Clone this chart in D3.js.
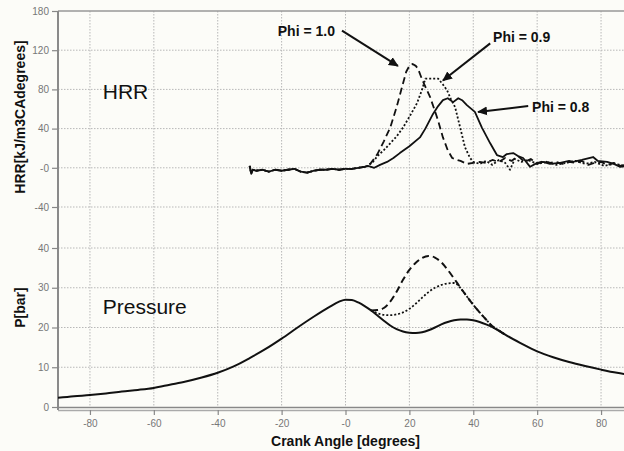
<!DOCTYPE html>
<html>
<head>
<meta charset="utf-8">
<script src="https://cdn.jsdelivr.net/npm/d3@7"></script>
<style>
  html, body { margin: 0; padding: 0; background: #fcfcf8; }
  svg { display: block; font-family: "Liberation Sans", Arial, sans-serif; }
</style>
</head>
<body>
<svg width="624" height="451"></svg>
<script>
///////////////////////////////////////////////////
// Data
///////////////////////////////////////////////////

//	shared motoring part of the HRR trace (before ignition)
let hrrBaseAngle = [-30, -29.5, -29, -28, -26, -24, -22, -20, -18, -16, -14, -12, -10, -8, -6, -4, -2, 0, 2, 4, 6, 7];
let hrrBaseValue = [2, -6, -2, -3, -2, -4, -2, -3, -2, -1, -4, -5, -3, -2, -2, -1, -2, -1, -1, 0, 1, 2];

//	HRR, Phi = 1.0 (dashed)
let hrr10Angle = [8, 10, 12, 14, 16, 18, 19, 20, 21, 22, 22.7, 24, 26.5, 28, 29, 30.5, 32, 33.4, 35, 36, 38, 40, 42, 44, 46, 48, 50, 52, 54, 56, 58, 60, 62, 64, 66, 68, 70, 72, 74, 76, 78, 80, 82, 84, 86, 88];
let hrr10Value = [5, 14, 27, 41, 62, 86, 98, 104, 106, 104, 101, 90, 72, 58, 48, 31, 18, 10, 8, 7, 4, 5, 6, 5, 8, 6, 10, 7, 12, 6, 9, 4, 7, 5, 6, 4, 6, 5, 7, 3, 5, 6, 3, 5, 2, 3];

//	HRR, Phi = 0.9 (dotted)
let hrr09Angle = [8.6, 10, 12, 14, 16, 18, 20, 22.4, 24, 25, 27, 29, 30.5, 31.8, 33, 34.3, 35.9, 37.4, 39, 40, 42, 44, 46, 48, 50, 51.5, 53, 55, 57, 60, 63, 66, 69, 72, 75, 78, 81, 84, 86, 88];
let hrr09Value = [6, 12, 18, 25, 32, 41, 52, 66, 80, 91, 91, 91, 85, 79, 70, 62, 41, 21, 10, 6, 4, 7, 3, 8, 5, -2, 9, 6, 8, 4, 6, 3, 5, 7, 4, 6, 2, 4, 3, 1];

//	HRR, Phi = 0.8 (solid)
let hrr08Angle = [9, 10.8, 13, 15, 17, 20, 23.3, 25, 27.4, 29, 30.5, 32, 33.7, 35.3, 36.5, 38, 40.5, 42.7, 45.3, 47.4, 49.3, 50.5, 52.5, 54, 55.6, 57.8, 60, 61.8, 64, 67.2, 70, 71.2, 74, 77.5, 79, 81.9, 84, 86, 88];
let hrr08Value = [0, 3, 6, 10, 15, 22, 31, 40, 55, 63, 69, 71, 67, 71, 69, 64, 57, 41, 25, 13, 11, 14, 15, 12, 10, 1, 5, 6, 4, 5, 7, 6, 8, 11, 7, 6, 4, 1, 2];

//	pressure, Phi = 0.8 (solid) - also the motored trace the others sit on
let p08Angle = [-90, -85, -80, -75, -70, -65, -60, -55, -50, -45, -40, -35, -30, -25, -20, -15, -10, -5, -2, 0, 2, 4, 6, 8, 10, 12, 14, 16, 18, 20, 22, 24, 26, 28, 30, 32, 34, 36, 38, 40, 42, 44, 46, 48, 50, 55, 60, 65, 70, 75, 80, 85, 90];
let p08Value = [2.3, 2.7, 3.0, 3.4, 3.9, 4.3, 4.8, 5.6, 6.4, 7.4, 8.6, 10.2, 12.3, 14.6, 17.2, 20.0, 22.7, 25.2, 26.5, 27.0, 26.9, 26.3, 25.4, 24.3, 23.0, 21.7, 20.5, 19.6, 19.0, 18.7, 18.6, 18.8, 19.3, 20.0, 20.8, 21.4, 21.8, 22.0, 22.0, 21.8, 21.4, 20.8, 20.1, 19.2, 18.2, 16.0, 14.0, 12.5, 11.3, 10.3, 9.4, 8.6, 8.0];

//	pressure, Phi = 1.0 (dashed), from where it leaves the solid trace
let p10Angle = [8, 10, 12, 14, 16, 18, 20, 22, 24, 26, 28, 30, 32, 34, 36, 38, 40, 42, 44, 46, 48, 50];
let p10Value = [24.3, 24.4, 24.9, 26.5, 29.0, 32.0, 34.5, 36.3, 37.5, 38.0, 37.6, 36.4, 34.5, 32.3, 30.0, 27.8, 25.7, 23.8, 22.0, 20.3, 19.2, 18.2];

//	pressure, Phi = 0.9 (dotted)
let p09Angle = [8, 10, 12, 14, 16, 18, 20, 22, 24, 26, 28, 30, 32, 34, 35, 36, 38, 40, 42, 44, 46, 48, 50];
let p09Value = [24.3, 23.6, 23.2, 23.1, 23.3, 23.8, 24.7, 26.0, 27.5, 28.9, 30.0, 30.7, 31.1, 31.2, 30.8, 29.9, 27.8, 25.7, 23.8, 22.0, 20.3, 19.2, 18.2];

//	axis ticks
let angleTicks = [-80, -60, -40, -20, 0, 20, 40, 60, 80];
let angleTickLabels = ["-80", "-60", "-40", "-20", "-0", "20", "40", "60", "80"];
let hrrTicks = [-40, 0, 40, 80, 120, 160];
let hrrTickLabels = ["-40", "-0", "40", "80", "120", "180"];
let pTicks = [0, 10, 20, 30, 40];
let pTickLabels = ["0", "10", "20", "30", "40"];

//	arrow annotations: [label, textAngle, textHRR, fromAngle, fromHRR, toAngle, toHRR, anchor]
let notes = [
  ["Phi = 1.0", -3.3, 134, -1.1, 140, 16.4, 104, "end"],
  ["Phi = 0.9", 46.2, 128, 45.3, 127, 30.5, 89, "start"],
  ["Phi = 0.8", 58.4, 57, 57.2, 63, 41.5, 57, "start"]
];

///////////////////////////////////////////////////
// Setup
///////////////////////////////////////////////////

let svg = d3.select("svg"),
    width = +svg.attr("width"),
    height = +svg.attr("height");

let x = d3.scaleLinear().domain([-90, 90]).range([58, 633]);
let yH = d3.scaleLinear().domain([-40, 160]).range([207, 11]);   // upper panel
let yP = d3.scaleLinear().domain([0, 40]).range([407, 248]);     // lower panel

function zip(a, b) {
  return a.map(function(d, i) { return [d, b[i]]; });
}

let hrrLine = d3.line()
  .x(function(d) { return x(d[0]); })
  .y(function(d) { return yH(d[1]); });

let pLine = d3.line()
  .curve(d3.curveMonotoneX)
  .x(function(d) { return x(d[0]); })
  .y(function(d) { return yP(d[1]); });

svg.append("rect")
  .attr("width", width)
  .attr("height", height)
  .attr("fill", "#fcfcf8");

svg.append("defs").append("marker")
  .attr("id", "arrow")
  .attr("viewBox", "0 -5 10 10")
  .attr("refX", 9)
  .attr("refY", 0)
  .attr("markerWidth", 5)
  .attr("markerHeight", 5)
  .attr("markerUnits", "strokeWidth")
  .attr("orient", "auto")
  .append("path")
  .attr("d", "M0,-4.5L10,0L0,4.5Z")
  .attr("fill", "#111");

///////////////////////////////////////////////////
// Grid
///////////////////////////////////////////////////

let grid = svg.append("g")
  .attr("stroke", "#b8b8b8")
  .attr("stroke-width", 1)
  .attr("stroke-dasharray", "1.5,1.5");

grid.selectAll(".vgrid")
  .data(angleTicks)
  .enter().append("line")
  .attr("x1", function(d) { return x(d); })
  .attr("x2", function(d) { return x(d); })
  .attr("y1", yH(160))
  .attr("y2", yP(0));

grid.selectAll(".hgridH")
  .data(hrrTicks.filter(function(d) { return d < 160; }))
  .enter().append("line")
  .attr("x1", x(-90))
  .attr("x2", x(90))
  .attr("y1", function(d) { return yH(d); })
  .attr("y2", function(d) { return yH(d); });

grid.selectAll(".hgridP")
  .data(pTicks.filter(function(d) { return d > 0; }))
  .enter().append("line")
  .attr("x1", x(-90))
  .attr("x2", x(90))
  .attr("y1", function(d) { return yP(d); })
  .attr("y2", function(d) { return yP(d); });

///////////////////////////////////////////////////
// Axes
///////////////////////////////////////////////////

//	frame: top, left, double bottom line
svg.append("line")
  .attr("x1", x(-90)).attr("x2", x(90))
  .attr("y1", yH(160)).attr("y2", yH(160))
  .attr("stroke", "#999").attr("stroke-width", 1.5);

svg.append("line")
  .attr("x1", x(-90)).attr("x2", x(-90))
  .attr("y1", yH(160)).attr("y2", yP(0) + 3)
  .attr("stroke", "#8a8a8a").attr("stroke-width", 2);

svg.append("line")
  .attr("x1", x(-90)).attr("x2", x(90))
  .attr("y1", yP(0) + 0.5).attr("y2", yP(0) + 0.5)
  .attr("stroke", "#888").attr("stroke-width", 1.5);

svg.append("line")
  .attr("x1", x(-90)).attr("x2", x(90))
  .attr("y1", yP(0) + 3.5).attr("y2", yP(0) + 3.5)
  .attr("stroke", "#aaa").attr("stroke-width", 1.5);

function styleAxis(g) {
  g.select(".domain").remove();
  g.selectAll(".tick line").attr("stroke", "#888").attr("stroke-width", 1.2);
  g.selectAll(".tick text")
    .attr("fill", "#777")
    .attr("font-size", "10px")
    .attr("font-family", "'Liberation Sans', Arial, sans-serif");
}

svg.append("g")
  .attr("transform", "translate(" + x(-90) + ",0)")
  .call(d3.axisLeft(yH)
    .tickValues(hrrTicks)
    .tickSize(6)
    .tickPadding(3)
    .tickFormat(function(d, i) { return hrrTickLabels[i]; }))
  .call(styleAxis);

svg.append("g")
  .attr("transform", "translate(" + x(-90) + ",0)")
  .call(d3.axisLeft(yP)
    .tickValues(pTicks)
    .tickSize(6)
    .tickPadding(3)
    .tickFormat(function(d, i) { return pTickLabels[i]; }))
  .call(styleAxis);

svg.append("g")
  .attr("transform", "translate(0," + (yP(0) + 3) + ")")
  .call(d3.axisBottom(x)
    .tickValues(angleTicks)
    .tickSize(5)
    .tickPadding(5)
    .tickFormat(function(d, i) { return angleTickLabels[i]; }))
  .call(styleAxis);

//	axis titles
svg.append("text")
  .attr("transform", "translate(25," + ((yH(160) + yH(-40)) / 2 + 8) + ") rotate(-90)")
  .attr("text-anchor", "middle")
  .attr("font-size", "14px")
  .attr("font-weight", "bold")
  .attr("fill", "#111")
  .text("HRR[kJ/m3CAdegrees]");

svg.append("text")
  .attr("transform", "translate(25," + yP(25) + ") rotate(-90)")
  .attr("text-anchor", "middle")
  .attr("font-size", "14px")
  .attr("font-weight", "bold")
  .attr("fill", "#111")
  .text("P[bar]");

svg.append("text")
  .attr("x", x(0))
  .attr("y", 446)
  .attr("text-anchor", "middle")
  .attr("font-size", "14px")
  .attr("font-weight", "bold")
  .attr("fill", "#111")
  .text("Crank Angle [degrees]");

//	panel names
svg.append("text")
  .attr("x", x(-76))
  .attr("y", yH(70))
  .attr("font-size", "21px")
  .attr("fill", "#111")
  .text("HRR");

svg.append("text")
  .attr("x", x(-76))
  .attr("y", yP(23.4))
  .attr("font-size", "21px")
  .attr("fill", "#111")
  .text("Pressure");

///////////////////////////////////////////////////
// Curves
///////////////////////////////////////////////////

let curves = svg.append("g")
  .attr("fill", "none")
  .attr("stroke", "#111")
  .attr("stroke-linejoin", "round");

let hrrBase = zip(hrrBaseAngle, hrrBaseValue);

curves.append("path")
  .attr("d", hrrLine(hrrBase.concat(zip(hrr09Angle, hrr09Value))))
  .attr("stroke-width", 1.8)
  .attr("stroke-dasharray", "2,2");

curves.append("path")
  .attr("d", hrrLine(hrrBase.concat(zip(hrr10Angle, hrr10Value))))
  .attr("stroke-width", 1.8)
  .attr("stroke-dasharray", "7,4");

curves.append("path")
  .attr("d", hrrLine(hrrBase.concat(zip(hrr08Angle, hrr08Value))))
  .attr("stroke-width", 1.8);

curves.append("path")
  .attr("d", pLine(zip(p09Angle, p09Value)))
  .attr("stroke-width", 1.8)
  .attr("stroke-dasharray", "2,2");

curves.append("path")
  .attr("d", pLine(zip(p10Angle, p10Value)))
  .attr("stroke-width", 2)
  .attr("stroke-dasharray", "7,4");

curves.append("path")
  .attr("d", pLine(zip(p08Angle, p08Value)))
  .attr("stroke-width", 2);

///////////////////////////////////////////////////
// Annotations
///////////////////////////////////////////////////

let note = svg.append("g").selectAll(".note")
  .data(notes)
  .enter().append("g")
  .attr("class", "note");

note.append("line")
  .attr("x1", function(d) { return x(d[3]); })
  .attr("y1", function(d) { return yH(d[4]); })
  .attr("x2", function(d) { return x(d[5]); })
  .attr("y2", function(d) { return yH(d[6]); })
  .attr("stroke", "#111")
  .attr("stroke-width", 2)
  .attr("marker-end", "url(#arrow)");

note.append("text")
  .attr("x", function(d) { return x(d[1]); })
  .attr("y", function(d) { return yH(d[2]); })
  .attr("text-anchor", function(d) { return d[7]; })
  .attr("font-size", "14px")
  .attr("font-weight", "bold")
  .attr("fill", "#111")
  .text(function(d) { return d[0]; });
</script>
</body>
</html>
